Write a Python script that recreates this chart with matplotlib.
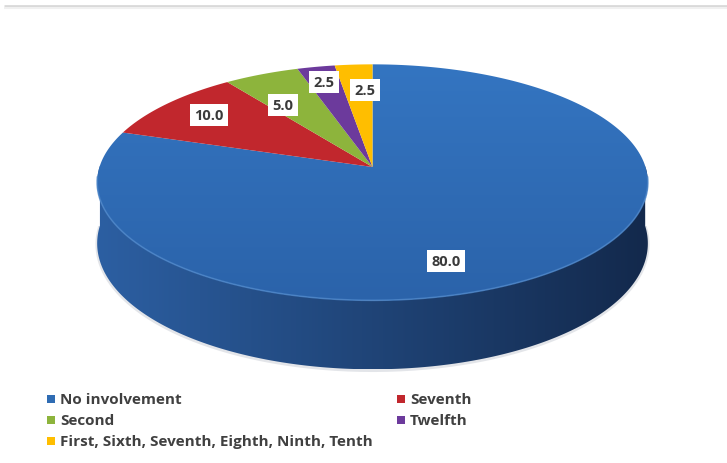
import numpy as np
import matplotlib.pyplot as plt
from matplotlib.patches import Polygon
from matplotlib.colors import LinearSegmentedColormap

labels = ['No involvement', 'Seventh', 'Second', 'Twelfth',
          'First, Sixth, Seventh, Eighth, Ninth, Tenth']
values = [80.0, 10.0, 5.0, 2.5, 2.5]

colors = ['#2F6CB3', '#C1272D', '#8DB43C', '#6C3A9C', '#FFBE00']
side_colors = [('#2C5FA2', '#13294C'), ('#8E1C20', '#6E1518'),
               ('#6A8A2C', '#55701F'), ('#4F2A75', '#3D2059'),
               ('#C99600', '#A87D00')]

W, H = 727, 464
fig = plt.figure(figsize=(W / 100, H / 100), dpi=100)
ax = fig.add_axes([0, 0, 1, 1])
ax.set_xlim(0, W)
ax.set_ylim(H, 0)
ax.axis('off')

# thin frame line along the top
ax.plot([4, W], [7, 7], color='#d9d9d9', lw=2, solid_capstyle='butt')
ax.plot([4, W], [9, 9], color='#f0f0f0', lw=1.5, solid_capstyle='butt')

# pie seen in slight perspective: far side a little smaller than near side
cx, cy = 372.5, 168
rx, ry = 273, 116
k = 0.13
depth0 = 60


def rim(t):
    u, v = np.cos(t), np.sin(t)
    s = 1.0 / (1.0 + k * v)
    return cx + rx * u * s, cy - ry * v * s, depth0 * s


def grad_fill(xy, c1, c2, horizontal=True, z=1):
    poly = Polygon(xy, closed=True, facecolor='none', edgecolor='none')
    ax.add_patch(poly)
    cmap = LinearSegmentedColormap.from_list('g', [c1, c2])
    g = np.linspace(0, 1, 256)
    img = g[None, :] if horizontal else g[:, None]
    x0, x1 = xy[:, 0].min(), xy[:, 0].max()
    y0, y1 = xy[:, 1].min(), xy[:, 1].max()
    im = ax.imshow(img, cmap=cmap, extent=[x0, x1, y1, y0], aspect='auto',
                   zorder=z, interpolation='bilinear')
    im.set_clip_path(poly)


total = sum(values)
bounds = 90 - 360 * np.concatenate([[0], np.cumsum(values)]) / total

# front wall (only the near half of the rim is visible)
for i in range(len(values)):
    t = np.radians(np.linspace(bounds[i], bounds[i + 1], 400))
    front = np.sin(t) <= 0.02
    if not front.any():
        continue
    xs, ys, d = rim(t[front])
    xy = np.column_stack([np.concatenate([xs, xs[::-1]]),
                          np.concatenate([ys, (ys + d)[::-1]])])
    grad_fill(xy, side_colors[i][0], side_colors[i][1], horizontal=True, z=1)

# soft edge along the bottom of the wall
xs, ys, d = rim(np.radians(np.linspace(180, 360, 300)))
ax.plot(xs, ys + d + 1, color='#c8ccd4', lw=2.5, alpha=0.5, zorder=0)

# top faces
for i in range(len(values)):
    t = np.radians(np.linspace(bounds[i], bounds[i + 1], 400))
    xs, ys, _ = rim(t)
    xy = np.column_stack([np.concatenate([[cx], xs]), np.concatenate([[cy], ys])])
    if i == 0:
        grad_fill(xy, '#3475C1', '#2B63AA', horizontal=False, z=2)
    else:
        ax.add_patch(Polygon(xy, closed=True, facecolor=colors[i],
                             edgecolor='none', zorder=2))

# lighter rim where the top meets the wall
xs, ys, _ = rim(np.radians(np.linspace(185, 355, 300)))
ax.plot(xs, ys, color='#4A84C8', lw=1.2, alpha=0.8, zorder=3)

# value labels
label_xy = [(446, 262), (209, 116), (283, 106), (324, 83), (365, 91)]
for (lx, ly), v in zip(label_xy, values):
    ax.text(lx, ly, f'{v:.1f}', ha='center', va='center', fontsize=10.5,
            fontweight='bold', color='#3a3a3a', family='Open Sans', zorder=5,
            bbox=dict(facecolor='white', edgecolor='none', pad=3.0))

# legend, two columns filled row by row
col_x = [48, 398]
row_y = [400, 421, 442]
for k_, (name, c) in enumerate(zip(labels, colors)):
    lx = col_x[k_ % 2]
    ly = row_y[k_ // 2]
    ax.scatter([lx + 3], [ly], marker='s', s=40, color=c, zorder=5,
               edgecolors='none')
    ax.text(lx + 12, ly, name, ha='left', va='center', fontsize=11,
            fontweight='bold', color='#404040', family='Open Sans', zorder=5)

fig.savefig('out.png', dpi=100, facecolor='white')
